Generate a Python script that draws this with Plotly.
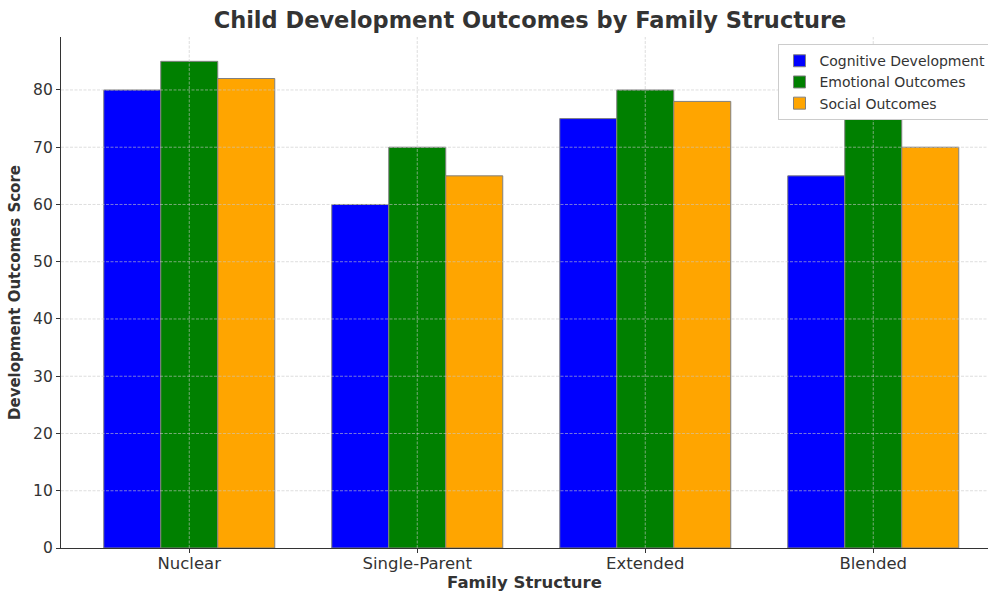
import plotly.graph_objects as go

categories = ["Nuclear", "Single-Parent", "Extended", "Blended"]
cognitive = [80, 60, 75, 65]
emotional = [85, 70, 80, 75]
social = [82, 65, 78, 70]
series_names = ["Cognitive Development", "Emotional Outcomes", "Social Outcomes"]
colors = ["#0000ff", "#008000", "#ffa500"]
y_ticks = list(range(0, 90, 10))

fig = go.Figure()
for name, vals, col in zip(series_names, [cognitive, emotional, social], colors):
    fig.add_trace(go.Bar(
        x=list(range(len(categories))), y=vals, name=name,
        marker=dict(color=col, line=dict(color="#808080", width=1)),
    ))

grid_col = "rgba(200,200,200,0.75)"
grid_line = dict(color=grid_col, width=0.8, dash="3px,1.5px")
# grid drawn above the bars, as in the reference
for i in range(len(categories)):
    fig.add_shape(type="line", xref="x", yref="paper", x0=i, x1=i, y0=0, y1=1,
                  line=grid_line, layer="above")
for t in y_ticks[1:]:
    fig.add_shape(type="line", xref="paper", yref="y", x0=0, x1=1, y0=t, y1=t,
                  line=grid_line, layer="above")

fig.update_layout(
    width=988, height=595,
    margin=dict(l=61, r=0, t=37, b=47, autoexpand=False),
    paper_bgcolor="white", plot_bgcolor="white",
    font=dict(family="DejaVu Sans", color="#333333"),
    barmode="group", bargap=0.25, bargroupgap=0,
    title=dict(text="<b>Child Development Outcomes by Family Structure</b>",
               x=530 / 988, xanchor="center", y=1 - 20 / 595, yanchor="middle",
               font=dict(size=22.5, color="#333333")),
    legend=dict(x=0.774, y=0.986, xanchor="left", yanchor="top",
                bgcolor="white", bordercolor="#cccccc", borderwidth=1,
                font=dict(size=14, color="#333333"), tracegroupgap=0),
    showlegend=True,
)
fig.update_xaxes(
    range=[-0.5625, -0.5625 + 927 / 228], tickmode="array",
    tickvals=list(range(len(categories))), ticktext=categories,
    ticks="outside", ticklen=4, tickcolor="#333333",
    showline=True, linecolor="#333333", linewidth=1.2,
    showgrid=False, layer="above traces",
    tickfont=dict(size=16.5, color="#333333"), ticklabelstandoff=-4,
    title=dict(text="<b>Family Structure</b>", font=dict(size=16.5, color="#333333"), standoff=2),
    zeroline=False,
)
fig.update_yaxes(
    range=[0, 89.25], tickmode="array", tickvals=y_ticks,
    ticks="outside", ticklen=4, tickcolor="#333333",
    showline=True, linecolor="#333333", linewidth=1.2,
    showgrid=False, layer="above traces",
    tickfont=dict(size=15.5, color="#333333"),
    title=dict(text="<b>Development Outcomes Score</b>", font=dict(size=15, color="#333333"), standoff=8),
    zeroline=False,
)

fig.write_html("out.html")
